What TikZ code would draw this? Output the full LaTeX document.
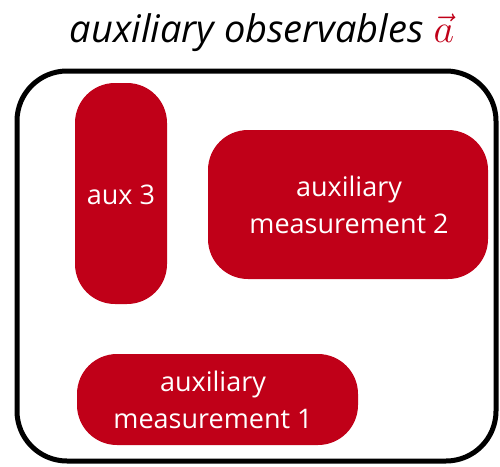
\documentclass[tikz,border=0pt]{standalone}
\usepackage{fix-cm}
\usepackage{fontspec}
\setmainfont{Open Sans}
\definecolor{boxred}{RGB}{192,0,24}
\begin{document}
\begin{tikzpicture}[x=1pt,y=-1pt,
  redbox/.style={fill=boxred,draw=none,rounded corners=40pt},
  lbl/.style={text=white,font=\fontsize{27}{37}\selectfont,align=center}]
\useasboundingbox (0,0) rectangle (500,466);
\draw[line width=5pt,rounded corners=50pt] (17,71) rectangle (496,461);
\node[anchor=base,font=\fontsize{38}{40}\selectfont\itshape] (title) at (262,42) {auxiliary observables \textcolor{boxred}{\fontsize{40}{40}\selectfont$\vec{a}$}};
\fill[redbox] (75,83) rectangle (167,304);
\node[lbl] (aux3) at (121,195) {aux 3};
\fill[redbox] (208,130) rectangle (488,279);
\node[lbl] (m2) at (349,205) {auxiliary\\measurement 2};
\fill[redbox] (77,354) rectangle (358,445);
\node[lbl] (m1) at (213,400) {auxiliary\\measurement 1};
\end{tikzpicture}
\end{document}
